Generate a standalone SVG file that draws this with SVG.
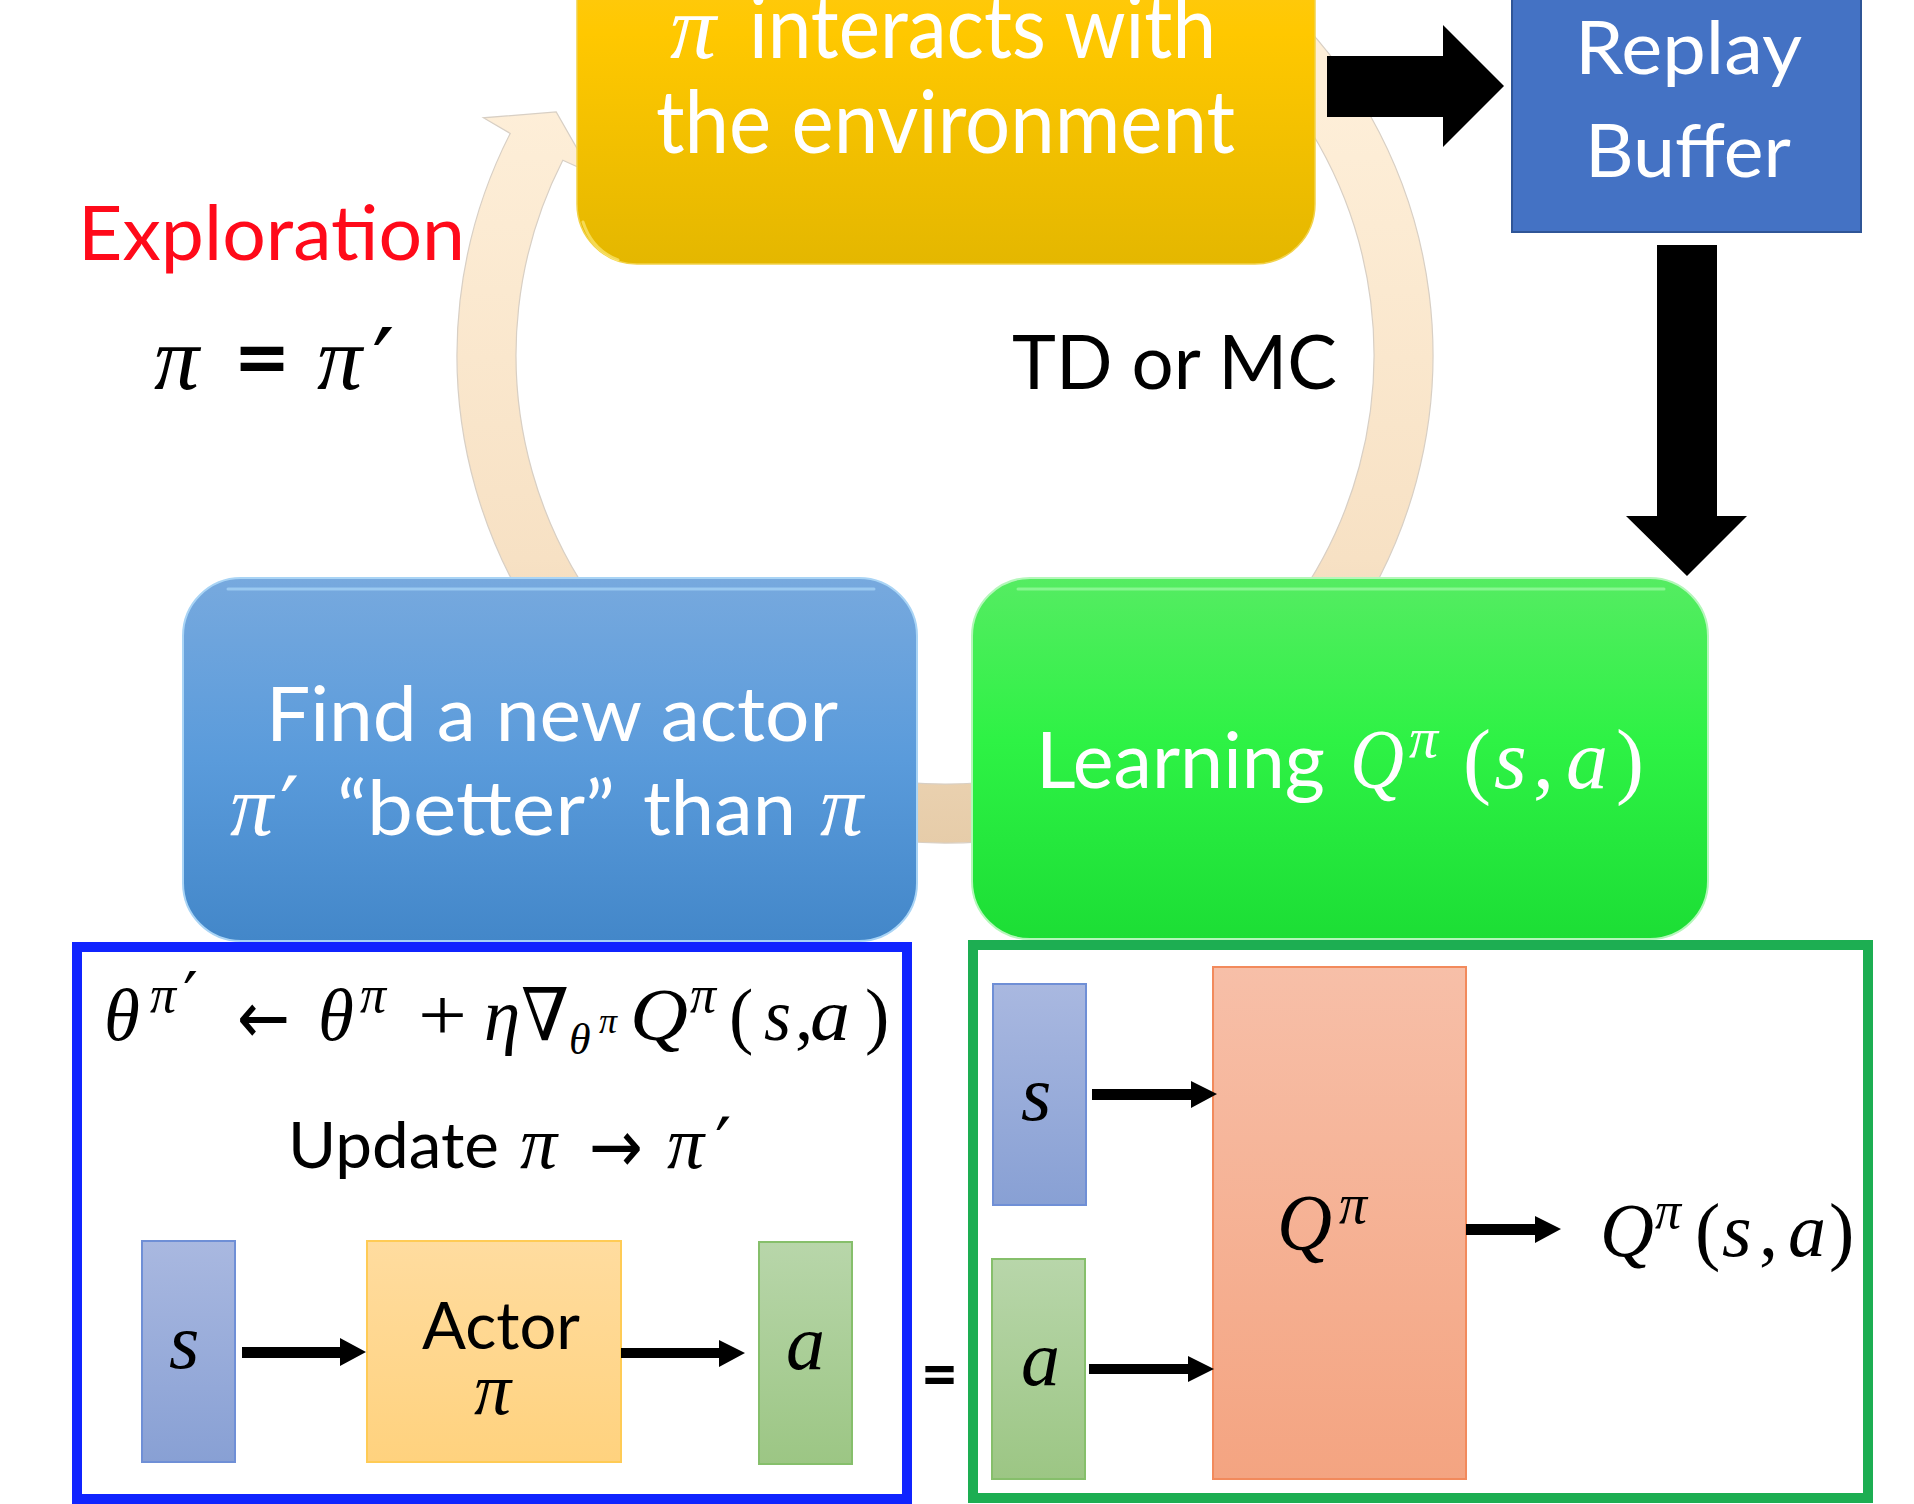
<svg xmlns="http://www.w3.org/2000/svg" width="1914" height="1504" viewBox="0 0 1914 1504">
<defs>
<style>
.t{font-family:Lato,"Open Sans","Liberation Sans",sans-serif}
.m{font-family:"Liberation Serif","DejaVu Serif",serif;font-style:italic}
.mu{font-family:"Liberation Serif","DejaVu Serif",serif}
.pr{font-family:"DejaVu Serif",serif}
.ar{font-family:"DejaVu Sans",sans-serif}
.w{fill:#ffffff}
.k{fill:#000000}
.blk{fill:#000000}
.frame{fill:none;stroke-width:10}
</style>
<linearGradient id="gBand" gradientUnits="userSpaceOnUse" x1="0" y1="90" x2="0" y2="845">
<stop offset="0" stop-color="#FEEFD9"/>
<stop offset="0.62" stop-color="#F7E1C4"/>
<stop offset="1" stop-color="#E6CCA9"/>
</linearGradient>
<linearGradient id="gYel" x1="0" y1="0" x2="0" y2="1">
<stop offset="0" stop-color="#FFCB2A"/>
<stop offset="0.4" stop-color="#FFC800"/>
<stop offset="1" stop-color="#E4B700"/>
</linearGradient>
<linearGradient id="gBlue" x1="0" y1="0" x2="0" y2="1">
<stop offset="0" stop-color="#77A9DE"/>
<stop offset="0.5" stop-color="#5A9BDB"/>
<stop offset="1" stop-color="#4387C9"/>
</linearGradient>
<linearGradient id="gGreen" x1="0" y1="0" x2="0" y2="1">
<stop offset="0" stop-color="#55EC62"/>
<stop offset="0.45" stop-color="#2EF245"/>
<stop offset="1" stop-color="#1CDE35"/>
</linearGradient>
<linearGradient id="gS" x1="0" y1="0" x2="0" y2="1">
<stop offset="0" stop-color="#A9B8E0"/>
<stop offset="1" stop-color="#88A0D4"/>
</linearGradient>
<linearGradient id="gA" x1="0" y1="0" x2="0" y2="1">
<stop offset="0" stop-color="#B8D6AA"/>
<stop offset="1" stop-color="#9CC684"/>
</linearGradient>
<linearGradient id="gAct" x1="0" y1="0" x2="0" y2="1">
<stop offset="0" stop-color="#FFDC9F"/>
<stop offset="1" stop-color="#FFD27E"/>
</linearGradient>
<linearGradient id="gQ" x1="0" y1="0" x2="0" y2="1">
<stop offset="0" stop-color="#F7BFA8"/>
<stop offset="1" stop-color="#F4A481"/>
</linearGradient>
</defs>
<rect x="0" y="0" width="1914" height="1504" fill="#ffffff"/>

<g id="cycle-arrow">
<path d="M 1258.7 -18.8 A 488 488 0 1 1 510.2 133.4 L 483.4 117.8 L 556.2 112 L 591 173 L 562.8 160.2 A 429 429 0 1 0 1220.8 26.4 Z" fill="url(#gBand)" stroke="#D8CFC4" stroke-width="1.2"/>
</g>

<g id="node-interact">
<rect x="577" y="-120" width="738" height="384" rx="60" ry="60" fill="url(#gYel)" stroke="#F2D24A" stroke-width="1.5"/>
<path d="M 583 222 Q 592 250 618 260" fill="none" stroke="#FFF08A" stroke-width="3" stroke-linecap="round" opacity="0.6"/>
<text class="m w" x="670" y="58" font-size="92">π</text>
<text class="t w" x="749" y="58" font-size="88" textLength="467" lengthAdjust="spacingAndGlyphs">interacts with</text>
<text class="t w" x="656" y="153" font-size="88" textLength="579" lengthAdjust="spacingAndGlyphs">the environment</text>
</g>

<g id="node-replay">
<rect x="1512" y="-10" width="349" height="242" fill="#4472C4" stroke="#2F5597" stroke-width="2"/>
<text class="t w" x="1575" y="74" font-size="74" textLength="227" lengthAdjust="spacingAndGlyphs">Replay</text>
<text class="t w" x="1585" y="177" font-size="74" textLength="206" lengthAdjust="spacingAndGlyphs">Buffer</text>
</g>

<g id="node-find">
<rect x="183" y="578" width="734" height="363" rx="58" ry="58" fill="url(#gBlue)" stroke="#A9D4F5" stroke-width="2"/>
<path d="M 228 589 H 874" fill="none" stroke="#B8E4FF" stroke-width="3" stroke-linecap="round" opacity="0.55"/>
<text class="t w" x="266" y="741" font-size="76" textLength="572" lengthAdjust="spacingAndGlyphs">Find a new actor</text>
<text class="m w" x="230" y="835" font-size="86">π</text>
<text class="pr w" x="280" y="837" font-size="84">′</text>
<text class="t w" x="337" y="835" font-size="76" textLength="278" lengthAdjust="spacingAndGlyphs">“better”</text>
<text class="t w" x="643" y="835" font-size="76" textLength="153" lengthAdjust="spacingAndGlyphs">than</text>
<text class="m w" x="820" y="835" font-size="86">π</text>
</g>

<g id="node-learning">
<rect x="972" y="578" width="736" height="361" rx="58" ry="58" fill="url(#gGreen)" stroke="#B4F7BA" stroke-width="2"/>
<path d="M 1018 589 H 1664" fill="none" stroke="#B2FFB8" stroke-width="3" stroke-linecap="round" opacity="0.55"/>
<text class="t w" x="1036" y="788" font-size="77" textLength="289" lengthAdjust="spacingAndGlyphs">Learning</text>
<text class="m w" x="1350" y="788" font-size="84" textLength="54" lengthAdjust="spacingAndGlyphs">Q</text>
<text class="m w" x="1409" y="757" font-size="58">π</text>
<text class="mu w" x="1463" y="788" font-size="84">(</text>
<text class="m w" x="1494" y="788" font-size="84">s</text>
<text class="mu w" x="1533" y="788" font-size="84">,</text>
<text class="m w" x="1566" y="788" font-size="84">a</text>
<text class="mu w" x="1616" y="788" font-size="84">)</text>
</g>

<g id="label-exploration">
<text class="t" x="78" y="260" font-size="76" fill="#FF0a1a" textLength="387" lengthAdjust="spacingAndGlyphs">Exploration</text>
<text class="m k" x="154" y="389" font-size="90">π</text>
<text class="t k" x="234" y="389" font-size="90" font-weight="700" textLength="56" lengthAdjust="spacingAndGlyphs">=</text>
<text class="m k" x="317" y="389" font-size="90">π</text>
<text class="pr k" x="372" y="399" font-size="100">′</text>
</g>

<g id="label-td">
<text class="t k" x="1012" y="389" font-size="76" textLength="325" lengthAdjust="spacingAndGlyphs">TD or MC</text>
</g>

<g id="frame-actor">
<rect class="frame" x="77" y="947" width="830" height="552" stroke="#1024FF"/>
<text class="m k" x="104" y="1040" font-size="73">θ</text>
<text class="m k" x="150" y="1012" font-size="52">π</text>
<text class="pr k" x="183" y="1019" font-size="66">′</text>
<text class="ar k" x="237" y="1043" font-size="73" textLength="53" lengthAdjust="spacingAndGlyphs">←</text>
<text class="m k" x="318" y="1040" font-size="73">θ</text>
<text class="m k" x="360" y="1012" font-size="52">π</text>
<text class="mu k" x="418" y="1040" font-size="73" textLength="49" lengthAdjust="spacingAndGlyphs">+</text>
<text class="m k" x="484" y="1040" font-size="73">η</text>
<text class="m k" x="521" y="1040" font-size="73" textLength="48" lengthAdjust="spacingAndGlyphs">∇</text>
<text class="m k" x="569" y="1054" font-size="44">θ</text>
<text class="m k" x="599" y="1033" font-size="36">π</text>
<text class="m k" x="630" y="1040" font-size="73" textLength="58" lengthAdjust="spacingAndGlyphs">Q</text>
<text class="m k" x="690" y="1012" font-size="52">π</text>
<text class="mu k" x="729" y="1040" font-size="73">(</text>
<text class="m k" x="764" y="1040" font-size="73" textLength="27" lengthAdjust="spacingAndGlyphs">s</text>
<text class="mu k" x="795" y="1040" font-size="73">,</text>
<text class="m k" x="810" y="1040" font-size="73" textLength="40" lengthAdjust="spacingAndGlyphs">a</text>
<text class="mu k" x="865" y="1040" font-size="73">)</text>
<text class="t k" x="288" y="1168" font-size="64" textLength="211" lengthAdjust="spacingAndGlyphs">Update</text>
<text class="m k" x="520" y="1168" font-size="74">π</text>
<text class="ar k" x="589" y="1172" font-size="74" textLength="54" lengthAdjust="spacingAndGlyphs">→</text>
<text class="m k" x="667" y="1168" font-size="74">π</text>
<text class="pr k" x="715" y="1170" font-size="72">′</text>
<rect x="142" y="1241" width="93" height="221" fill="url(#gS)" stroke="#6F8FD6" stroke-width="2"/>
<text class="m k" x="169" y="1368" font-size="78">s</text>
<rect x="367" y="1241" width="254" height="221" fill="url(#gAct)" stroke="#FFCB55" stroke-width="2"/>
<text class="t k" x="422" y="1349" font-size="66" textLength="158" lengthAdjust="spacingAndGlyphs">Actor</text>
<text class="m k" x="474" y="1414" font-size="74">π</text>
<rect x="759" y="1242" width="93" height="222" fill="url(#gA)" stroke="#86BF6B" stroke-width="2"/>
<text class="m k" x="786" y="1369" font-size="78">a</text>
</g>

<g id="equals">
<text class="t k" x="921" y="1398" font-size="66" font-weight="700" textLength="37" lengthAdjust="spacingAndGlyphs">=</text>
</g>

<g id="frame-critic">
<rect class="frame" x="973" y="945" width="895" height="553" stroke="#1DAE52"/>
<rect x="993" y="984" width="93" height="221" fill="url(#gS)" stroke="#6F8FD6" stroke-width="2"/>
<text class="m k" x="1021" y="1120" font-size="78">s</text>
<rect x="992" y="1259" width="93" height="220" fill="url(#gA)" stroke="#86BF6B" stroke-width="2"/>
<text class="m k" x="1021" y="1385" font-size="78">a</text>
<rect x="1213" y="967" width="253" height="512" fill="url(#gQ)" stroke="#F28A5C" stroke-width="2"/>
<text class="m k" x="1277" y="1250" font-size="80" textLength="55" lengthAdjust="spacingAndGlyphs">Q</text>
<text class="m k" x="1339" y="1223" font-size="56">π</text>
<text class="m k" x="1600" y="1256" font-size="76" textLength="54" lengthAdjust="spacingAndGlyphs">Q</text>
<text class="m k" x="1655" y="1228" font-size="52">π</text>
<text class="mu k" x="1695" y="1256" font-size="76">(</text>
<text class="m k" x="1722" y="1256" font-size="76">s</text>
<text class="mu k" x="1759" y="1256" font-size="76">,</text>
<text class="m k" x="1788" y="1256" font-size="76">a</text>
<text class="mu k" x="1829" y="1256" font-size="76">)</text>
</g>

<g id="connectors">
<polygon class="blk" points="1327,56 1443,56 1443,25 1504,86 1443,147 1443,117 1327,117"/>
<polygon class="blk" points="1657,245 1717,245 1717,516 1747,516 1687,576 1626,516 1657,516"/>
<polygon class="blk" points="242,1347 340,1347 340,1338 366,1352 340,1366 340,1358 242,1358"/>
<polygon class="blk" points="621,1348 719,1348 719,1340 745,1353 719,1367 719,1358 621,1358"/>
<polygon class="blk" points="1092,1089 1191,1089 1191,1081 1217,1094 1191,1108 1191,1100 1092,1100"/>
<polygon class="blk" points="1089,1364 1188,1364 1188,1356 1214,1369 1188,1382 1188,1374 1089,1374"/>
<polygon class="blk" points="1466,1224 1535,1224 1535,1216 1561,1229 1535,1243 1535,1235 1466,1235"/>
</g>
</svg>
